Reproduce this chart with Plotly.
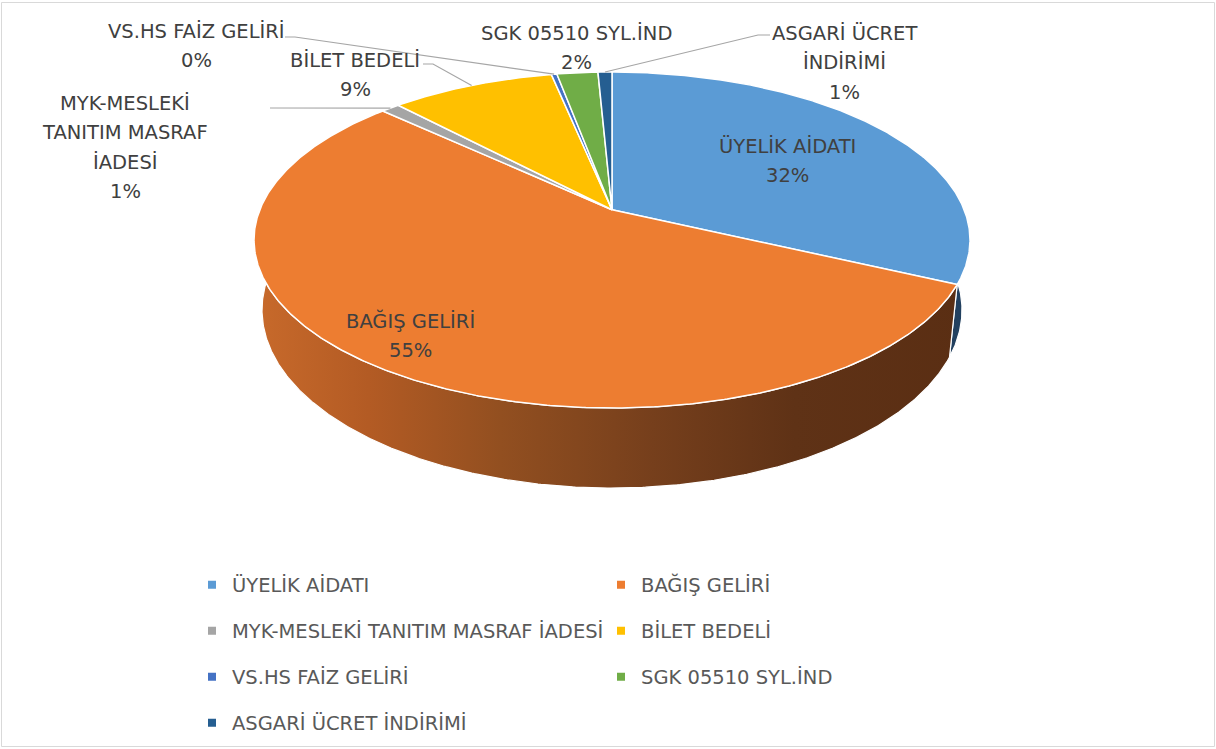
import textwrap
import numpy as np
import plotly.graph_objects as go

# ---------------- data ----------------
categories = [
    "ÜYELİK AİDATI",
    "BAĞIŞ GELİRİ",
    "MYK-MESLEKİ TANITIM MASRAF İADESİ",
    "BİLET BEDELİ",
    "VS.HS FAİZ GELİRİ",
    "SGK 05510 SYL.İND",
    "ASGARİ ÜCRET İNDİRİMİ",
]
values = [32.0, 55.0, 1.0, 8.8, 0.3, 2.2, 0.75]

# ---------------- style ----------------
colors = ["#5B9BD5", "#ED7D31", "#A5A5A5", "#FFC000", "#4472C4", "#70AD47", "#255E91"]
side_colors = ["#22405F", None, "#6E6E6E", "#A07800", "#2A4780", "#456B2C", "#163A5A"]
orange_side_scale = [
    [0.0, "#C86A2B"], [0.16, "#B35B24"], [0.345, "#924F20"],
    [0.556, "#763F1C"], [0.754, "#5F3216"], [1.0, "#5A2E13"],
]
FONT = "DejaVu Sans"
LABEL_COLOR = "#404040"
LEGEND_COLOR = "#595959"
FS = 19.5

# 3-D pie geometry (pixel space of the figure)
CX, CY, A, B = 612.0, 240.0, 358.0, 168.0          # top face ellipse
CY2, A2, B2 = 310.0, 350.0, 178.0                  # bottom face ellipse
BETA = 0.18                                        # perspective shift


def project(theta_deg, a=A, b=B, cy=CY, r=1.0):
    t = np.radians(theta_deg)
    u = r * np.sin(t)
    v = r * np.cos(t)
    den = 1 + BETA * v
    up = u * np.sqrt(1 - BETA ** 2) / den
    vp = (v + BETA) / den
    return CX + a * up, cy - b * vp


def arc(t0, t1, a=A, b=B, cy=CY):
    n = max(int(abs(t1 - t0) / 0.4) + 2, 3)
    ts = np.linspace(t0, t1, n)
    return project(ts, a, b, cy)


total = float(sum(values))
cum = np.concatenate([[0.0], np.cumsum(values)]) / total * 360.0
starts, ends = cum[:-1], cum[1:]
mids = (starts + ends) / 2
pct_text = [f"{round(v / total * 100):.0f}%" for v in values]

fig = go.Figure()

# ---- side walls (front half only) ----
for i in range(len(values)):
    lo, hi = max(starts[i], 80.0), min(ends[i], 280.0)
    if hi <= lo:
        continue
    tx, ty = arc(lo, hi)
    bx, by = arc(hi, lo, A2, B2, CY2)
    xs = np.concatenate([tx, bx, tx[:1]])
    ys = np.concatenate([ty, by, ty[:1]])
    kw = {}
    if side_colors[i] is None:
        kw["fillgradient"] = dict(type="horizontal", colorscale=orange_side_scale,
                                  start=CX - A, stop=CX + A)
    else:
        kw["fillcolor"] = side_colors[i]
    fig.add_trace(go.Scatter(x=xs, y=ys, mode="lines", fill="toself",
                             line=dict(color="white", width=1.2),
                             hoverinfo="skip", showlegend=False, **kw))

# ---- top faces ----
cx0, cy0 = project(0.0, r=0.0)
for i in range(len(values)):
    tx, ty = arc(starts[i], ends[i])
    xs = np.concatenate([[cx0], tx, [cx0]])
    ys = np.concatenate([[cy0], ty, [cy0]])
    fig.add_trace(go.Scatter(x=xs, y=ys, mode="lines", fill="toself",
                             fillcolor=colors[i], line=dict(color="white", width=1.5),
                             hoverinfo="skip", showlegend=False))

# ---- data labels ----
label_pos = {  # centre x, y of first line, wrap width
    0: (787, 146, 40), 1: (410, 321, 40), 2: (125, 103, 14), 3: (355, 60, 40),
    4: (196, 31, 40), 5: (576, 33, 40), 6: (844, 33, 12),
}
LINE = 29.5
annotations = []
for i, (lx, ly, wrapw) in label_pos.items():
    lines = textwrap.wrap(categories[i], wrapw, break_on_hyphens=False) + [pct_text[i]]
    for k, line in enumerate(lines):
        annotations.append(dict(x=lx, y=ly + k * LINE, xref="x", yref="y", text=line,
                                showarrow=False, xanchor="center", yanchor="middle",
                                font=dict(family=FONT, size=FS, color=LABEL_COLOR)))

# ---- leader lines ----
elbows = {4: [(285, 37), (295, 37)], 3: [(423, 64), (433, 64)],
          2: [(270, 108), (280, 108)], 6: [(770, 35), (758, 35)]}
for i, pts in elbows.items():
    rx, ry = project(mids[i])
    xs = [p[0] for p in pts] + [rx]
    ys = [p[1] for p in pts] + [ry]
    fig.add_trace(go.Scatter(x=xs, y=ys, mode="lines", line=dict(color="#A6A6A6", width=1.2),
                             hoverinfo="skip", showlegend=False))

# ---- legend (4 rows, 2 columns) ----
rows = [[0, 1], [2, 3], [4, 5], [6]]
row_y = [585, 631, 677, 723]
legend_layouts = {}
for r, idxs in enumerate(rows):
    lname = "legend" if r == 0 else f"legend{r + 1}"
    for i in idxs:
        fig.add_trace(go.Scatter(x=[None], y=[None], mode="markers", name=categories[i],
                                 marker=dict(symbol="square", size=8, color=colors[i]),
                                 legend=lname, showlegend=True, hoverinfo="skip"))
    legend_layouts[lname] = dict(
        orientation="h", x=192 / 1216, xanchor="left", y=1 - row_y[r] / 749, yanchor="middle",
        entrywidth=364, entrywidthmode="pixels", bgcolor="rgba(0,0,0,0)", borderwidth=0,
        font=dict(family=FONT, size=FS, color=LEGEND_COLOR), itemclick=False,
        itemdoubleclick=False,
    )

fig.update_layout(
    width=1216, height=749,
    margin=dict(l=0, r=0, t=0, b=0),
    paper_bgcolor="white", plot_bgcolor="white",
    xaxis=dict(range=[0, 1216], visible=False, fixedrange=True),
    yaxis=dict(range=[749, 0], visible=False, fixedrange=True),
    annotations=annotations,
    shapes=[dict(type="rect", xref="x", yref="y", x0=1.5, y0=2.5, x1=1214.5, y1=746.5,
                 line=dict(color="#D9D9D9", width=1), layer="below")],
    **legend_layouts,
)

fig.write_html("out.html", config={"displayModeBar": False},
               post_script="document.body.style.margin='0';")
